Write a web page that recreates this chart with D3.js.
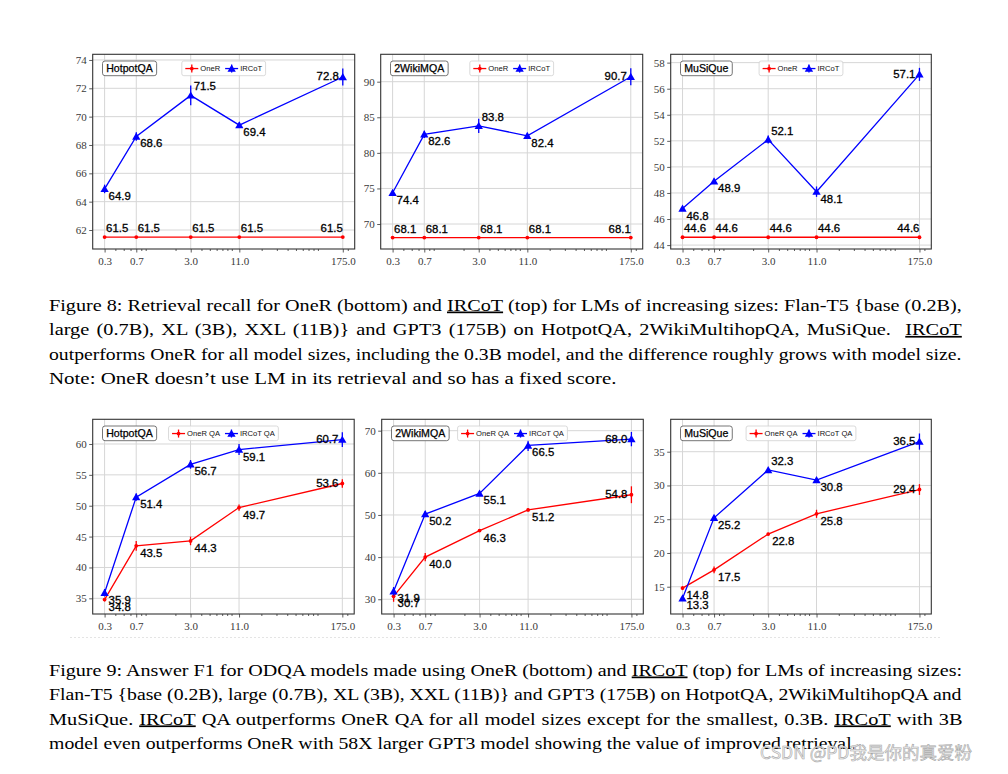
<!DOCTYPE html>
<html>
<head>
<meta charset="utf-8">
<script src="https://cdn.jsdelivr.net/npm/d3@7"></script>
<style>
  html, body { margin: 0; padding: 0; background: #fff; }
  svg { display: block; }
</style>
</head>
<body>
<svg id="chart" width="1008" height="774"></svg>
<script>
// ---------- data ----------
const modelSizes = [0.3, 0.7, 3.0, 11.0, 175.0];
const xTickLabels = ["0.3", "0.7", "3.0", "11.0", "175.0"];

// Figure 8: retrieval recall
const recallHotpotOneR = [61.5, 61.5, 61.5, 61.5, 61.5];
const recallHotpotIRCoT = [64.9, 68.6, 71.5, 69.4, 72.8];
const recallHotpotIRCoTErr = [0.3, 0.3, 0.7, 0.2, 0.6];
const recall2WikiOneR = [68.1, 68.1, 68.1, 68.1, 68.1];
const recall2WikiIRCoT = [74.4, 82.6, 83.8, 82.4, 90.7];
const recall2WikiIRCoTErr = [0.2, 0.5, 1.0, 0.3, 1.2];
const recallMusiqueOneR = [44.6, 44.6, 44.6, 44.6, 44.6];
const recallMusiqueIRCoT = [46.8, 48.9, 52.1, 48.1, 57.1];
const recallMusiqueIRCoTErr = [0.15, 0.2, 0.3, 0.4, 0.5];

// Figure 9: answer F1
const qaHotpotOneR = [34.8, 43.5, 44.3, 49.7, 53.6];
const qaHotpotOneRErr = [0.3, 0.8, 0.7, 0.5, 0.7];
const qaHotpotIRCoT = [35.9, 51.4, 56.7, 59.1, 60.7];
const qaHotpotIRCoTErr = [0.6, 0.6, 0.7, 0.9, 1.2];
const qa2WikiOneR = [30.7, 40.0, 46.3, 51.2, 54.8];
const qa2WikiOneRErr = [1.3, 1.0, 0.3, 0.4, 2.0];
const qa2WikiIRCoT = [31.9, 50.2, 55.1, 66.5, 68.0];
const qa2WikiIRCoTErr = [1.0, 0.7, 0.5, 1.3, 1.7];
const qaMusiqueOneR = [14.8, 17.5, 22.8, 25.8, 29.4];
const qaMusiqueOneRErr = [0.3, 0.5, 0.2, 0.6, 0.8];
const qaMusiqueIRCoT = [13.3, 25.2, 32.3, 30.8, 36.5];
const qaMusiqueIRCoTErr = [0.3, 0.3, 0.3, 0.3, 1.2];

const datasetNames = ["HotpotQA", "2WikiMQA", "MuSiQue"];
const legendRecall = ["OneR", "IRCoT"];
const legendQA = ["OneR QA", "IRCoT QA"];

const yTicksRecall = [
  [62, 64, 66, 68, 70, 72, 74],
  [70, 75, 80, 85, 90],
  [44, 46, 48, 50, 52, 54, 56, 58]
];
const yTicksQA = [
  [35, 40, 45, 50, 55, 60],
  [30, 40, 50, 60, 70],
  [15, 20, 25, 30, 35]
];

// ---------- layout ----------
const svg = d3.select("#chart");
svg.append("rect").attr("width", 1008).attr("height", 774).attr("fill", "#fff");

const RED = "#ff0000", BLUE = "#0000ff";
const SANS = "Liberation Sans";
const SERIF = "Liberation Serif";

const panels = [
  { frame: [92.7, 54.3, 354.7, 249], yDomain: [60.66, 74.4], yTicks: yTicksRecall[0], name: datasetNames[0], legend: legendRecall,
    series: [{ v: recallHotpotOneR, e: null, c: RED, m: "dot" }, { v: recallHotpotIRCoT, e: recallHotpotIRCoTErr, c: BLUE, m: "tri" }] },
  { frame: [380.7, 54.3, 642.7, 249], yDomain: [66.49, 93.85], yTicks: yTicksRecall[1], name: datasetNames[1], legend: legendRecall,
    series: [{ v: recall2WikiOneR, e: null, c: RED, m: "dot" }, { v: recall2WikiIRCoT, e: recall2WikiIRCoTErr, c: BLUE, m: "tri" }] },
  { frame: [670.7, 54.3, 931.3, 249], yDomain: [43.7, 58.64], yTicks: yTicksRecall[2], name: datasetNames[2], legend: legendRecall,
    series: [{ v: recallMusiqueOneR, e: null, c: RED, m: "dot" }, { v: recallMusiqueIRCoT, e: recallMusiqueIRCoTErr, c: BLUE, m: "tri" }] },
  { frame: [92.7, 419.3, 354.2, 614], yDomain: [32.46, 64.0], yTicks: yTicksQA[0], name: datasetNames[0], legend: legendQA,
    series: [{ v: qaHotpotOneR, e: qaHotpotOneRErr, c: RED, m: "dot" }, { v: qaHotpotIRCoT, e: qaHotpotIRCoTErr, c: BLUE, m: "tri" }] },
  { frame: [381.7, 419.3, 643.3, 614], yDomain: [26.5, 72.7], yTicks: yTicksQA[1], name: datasetNames[1], legend: legendQA,
    series: [{ v: qa2WikiOneR, e: qa2WikiOneRErr, c: RED, m: "dot" }, { v: qa2WikiIRCoT, e: qa2WikiIRCoTErr, c: BLUE, m: "tri" }] },
  { frame: [670.7, 419.3, 931.3, 614], yDomain: [10.96, 39.8], yTicks: yTicksQA[2], name: datasetNames[2], legend: legendQA,
    series: [{ v: qaMusiqueOneR, e: qaMusiqueOneRErr, c: RED, m: "dot" }, { v: qaMusiqueIRCoT, e: qaMusiqueIRCoTErr, c: BLUE, m: "tri" }] }
];

const lmin = Math.log10(modelSizes[0]), lmax = Math.log10(modelSizes[modelSizes.length - 1]);
const lmarg = 0.05 * (lmax - lmin);
const xDomain = [Math.pow(10, lmin - lmarg), Math.pow(10, lmax + lmarg)];

// minor log ticks (2..9 x decade), excluding major ticks
const minorTicks = [];
for (let dec = -1; dec <= 2; dec++) {
  for (let k = 2; k <= 9; k++) {
    const v = k * Math.pow(10, dec);
    if (v >= xDomain[0] && v <= xDomain[1] && !modelSizes.some(m => Math.abs(m - v) / v < 1e-6)) minorTicks.push(v);
  }
}

const triSym = d3.symbol().type(d3.symbolTriangle).size(30);

function marker(g, type, color, x, y) {
  if (type === "tri") {
    g.append("path").attr("d", triSym()).attr("transform", `translate(${x},${y + 0.8})`).attr("fill", color);
  } else {
    g.append("circle").attr("cx", x).attr("cy", y).attr("r", 1.9).attr("fill", color);
  }
}

panels.forEach(p => {
  const [x0, y0, x1, y1] = p.frame;
  const g = svg.append("g");
  const x = d3.scaleLog().domain(xDomain).range([x0, x1]);
  const y = d3.scaleLinear().domain(p.yDomain).range([y1, y0]);

  // grid
  g.append("g").selectAll("line").data(p.yTicks).join("line")
    .attr("x1", x0).attr("x2", x1).attr("y1", d => y(d)).attr("y2", d => y(d))
    .attr("stroke", "#d6d6d6").attr("stroke-width", 1);
  g.append("g").selectAll("line").data(modelSizes).join("line")
    .attr("x1", d => x(d)).attr("x2", d => x(d)).attr("y1", y0).attr("y2", y1)
    .attr("stroke", "#d6d6d6").attr("stroke-width", 1);

  // axes
  const xAxis = d3.axisBottom(x).tickValues(modelSizes).tickFormat((d, i) => xTickLabels[i]).tickSize(3.5).tickPadding(5);
  const xa = g.append("g").attr("transform", `translate(0,${y1})`).call(xAxis);
  const xMinor = d3.axisBottom(x).tickValues(minorTicks).tickFormat("").tickSize(2);
  const xm = g.append("g").attr("transform", `translate(0,${y1})`).call(xMinor);
  const yAxis = d3.axisLeft(y).tickValues(p.yTicks).tickFormat(d3.format("d")).tickSize(3.5).tickPadding(2.5);
  const ya = g.append("g").attr("transform", `translate(${x0},0)`).call(yAxis);
  [xa, xm, ya].forEach(a => {
    a.select(".domain").remove();
    a.selectAll(".tick line").attr("stroke", "#333").attr("stroke-width", 0.8);
    a.selectAll(".tick text").attr("font-family", SERIF).attr("font-size", 11).attr("fill", "#3a3a3a");
  });

  // series
  p.series.forEach((s, si) => {
    const pts = s.v.map((v, i) => [x(modelSizes[i]), y(v)]);
    g.append("path").attr("d", d3.line()(pts)).attr("fill", "none").attr("stroke", s.c).attr("stroke-width", 1.3);
    if (s.e) {
      s.v.forEach((v, i) => {
        g.append("line").attr("x1", x(modelSizes[i])).attr("x2", x(modelSizes[i]))
          .attr("y1", y(v - s.e[i])).attr("y2", y(v + s.e[i]))
          .attr("stroke", s.c).attr("stroke-width", 1.3);
      });
    }
    pts.forEach(pt => marker(g, s.m, s.c, pt[0], pt[1]));
  });

  // annotations
  p.series.forEach(s => {
    const n = s.v.length;
    const flat = s.v.every(v => v === s.v[0]);
    s.v.forEach((v, i) => {
      const px = x(modelSizes[i]), py = y(v);
      let tx, ty, anchor = "start";
      if (flat) {
        ty = py - 5;
        if (i === n - 1) { tx = px; anchor = "end"; } else { tx = px + 1.5; }
      } else if (i === n - 1) {
        tx = px - 4; ty = py + 3.5; anchor = "end";
      } else if (i > 0 && v > s.v[i - 1] && v > s.v[i + 1]) {
        tx = px + 3; ty = py - 5;
      } else {
        tx = px + 4; ty = py + 11;
      }
      g.append("text").attr("x", tx).attr("y", ty).attr("text-anchor", anchor)
        .attr("font-family", SANS).attr("font-size", 11.4).attr("fill", "#000")
        .attr("stroke", "#000").attr("stroke-width", 0.3).text(v.toFixed(1));
    });
  });

  // frame
  g.append("rect").attr("x", x0).attr("y", y0).attr("width", x1 - x0).attr("height", y1 - y0)
    .attr("fill", "none").attr("stroke", "#333").attr("stroke-width", 1.1);

  // dataset name box
  const nb = g.append("g");
  const nameText = nb.append("text").attr("x", x0 + 13.5).attr("y", y0 + 17.6)
    .attr("font-family", SANS).attr("font-size", 10.6).attr("fill", "#000")
    .attr("stroke", "#000").attr("stroke-width", 0.25).text(p.name);
  const nw = nameText.node().getComputedTextLength();
  nb.insert("rect", "text").attr("x", x0 + 9.8).attr("y", y0 + 6.7).attr("width", nw + 7.6).attr("height", 14.7)
    .attr("rx", 2.5).attr("fill", "#fff").attr("stroke", "#666").attr("stroke-width", 0.9);

  // legend
  const lg = g.append("g");
  const ly = y0 + 6.7, lh = 14.7, handle = 13, pad = 3.5, gap = 2, sep = 5;
  const widths = p.legend.map(t => {
    const tt = lg.append("text").attr("font-family", SANS).attr("font-size", 7.6).text(t);
    const w = tt.node().getComputedTextLength(); tt.remove(); return w;
  });
  const totalW = pad * 2 + widths.reduce((a, w) => a + handle + gap + w, 0) + sep * (widths.length - 1);
  const lx = (x0 + x1) / 2 - totalW / 2;
  lg.append("rect").attr("x", lx).attr("y", ly).attr("width", totalW).attr("height", lh)
    .attr("rx", 2).attr("fill", "#fff").attr("fill-opacity", 0.85).attr("stroke", "#d0d0d0").attr("stroke-width", 0.8);
  let cx = lx + pad;
  const cy = ly + lh / 2 + 0.2;
  p.series.forEach((s, si) => {
    lg.append("line").attr("x1", cx).attr("x2", cx + handle).attr("y1", cy).attr("y2", cy).attr("stroke", s.c).attr("stroke-width", 1.3);
    lg.append("line").attr("x1", cx + handle / 2).attr("x2", cx + handle / 2).attr("y1", cy - 4).attr("y2", cy + 4).attr("stroke", s.c).attr("stroke-width", 1.3);
    marker(lg, s.m, s.c, cx + handle / 2, cy);
    lg.append("text").attr("x", cx + handle + gap).attr("y", ly + 10.2)
      .attr("font-family", SANS).attr("font-size", 7.6).attr("fill", "#111").text(p.legend[si]);
    cx += handle + gap + widths[si] + sep;
  });
});

// faint dotted line under lower row
svg.append("line").attr("x1", 70).attr("x2", 940).attr("y1", 637.5).attr("y2", 637.5)
  .attr("stroke", "#e4e4e4").attr("stroke-width", 1).attr("stroke-dasharray", "2,2");

// ---------- captions ----------
const U = t => ({ t, u: true });
// j: justified to full width; end: right end of a non-justified last line
const captionLines = [
  { y: 310.6, j: true, segs: ["Figure 8: Retrieval recall for OneR (bottom) and ", U("IRCoT"), " (top) for LMs of increasing sizes: Flan-T5 {base (0.2B),"] },
  { y: 335.0, j: true, segs: ["large (0.7B), XL (3B), XXL (11B)} and GPT3 (175B) on HotpotQA, 2WikiMultihopQA, MuSiQue.  ", U("IRCoT")] },
  { y: 359.5, j: true, segs: ["outperforms OneR for all model sizes, including the 0.3B model, and the difference roughly grows with model size."] },
  { y: 384.0, j: false, end: 617, segs: ["Note: OneR doesn’t use LM in its retrieval and so has a fixed score."] },
  { y: 675.6, j: true, segs: ["Figure 9: Answer F1 for ODQA models made using OneR (bottom) and ", U("IRCoT"), " (top) for LMs of increasing sizes:"] },
  { y: 700.0, j: true, segs: ["Flan-T5 {base (0.2B), large (0.7B), XL (3B), XXL (11B)} and GPT3 (175B) on HotpotQA, 2WikiMultihopQA and"] },
  { y: 724.5, j: true, segs: ["MuSiQue. ", U("IRCoT"), " QA outperforms OneR QA for all model sizes except for the smallest, 0.3B. ", U("IRCoT"), " with 3B"] },
  { y: 749.0, j: false, end: 857, segs: ["model even outperforms OneR with 58X larger GPT3 model showing the value of improved retrieval."] }
];
const capX = 49, capW = 913;
const capNodes = captionLines.map(L => {
  const t = svg.append("text").attr("x", 0).attr("y", 0)
    .attr("font-family", SERIF).attr("font-size", 17).attr("fill", "#000")
    .style("white-space", "pre");
  L.segs.forEach(s => {
    const ts = t.append("tspan").text(typeof s === "string" ? s : s.t);
    if (typeof s !== "string" && s.u) ts.style("text-decoration", "underline");
  });
  return { L, t, w: t.node().getComputedTextLength() };
});
// horizontal glyph scale derived from the non-justified lines
const ks = capNodes.filter(c => !c.L.j).map(c => (c.L.end - capX) / c.w);
const kNom = d3.mean(ks);
capNodes.forEach(c => {
  const { L, t, w } = c;
  let k = L.j ? Math.min(kNom, capW / w) : (L.end - capX) / w;
  t.attr("transform", `translate(${capX},${L.y}) scale(${k},1)`);
  if (L.j) {
    const full = L.segs.map(s => typeof s === "string" ? s : s.t).join("");
    const nSpaces = (full.match(/ /g) || []).length;
    const extra = capW / k - w;
    if (nSpaces > 0 && extra > 0) t.style("word-spacing", (extra / nSpaces) + "px");
  }
});

// watermark
svg.append("text").attr("x", 760).attr("y", 758.5)
  .attr("font-family", "Noto Sans CJK SC").attr("font-size", 17.5)
  .attr("fill", "#f2f2f2").attr("stroke", "#a8a8a8").attr("stroke-width", 0.6)
  .text("CSDN @PD我是你的真爱粉");
</script>
</body>
</html>
